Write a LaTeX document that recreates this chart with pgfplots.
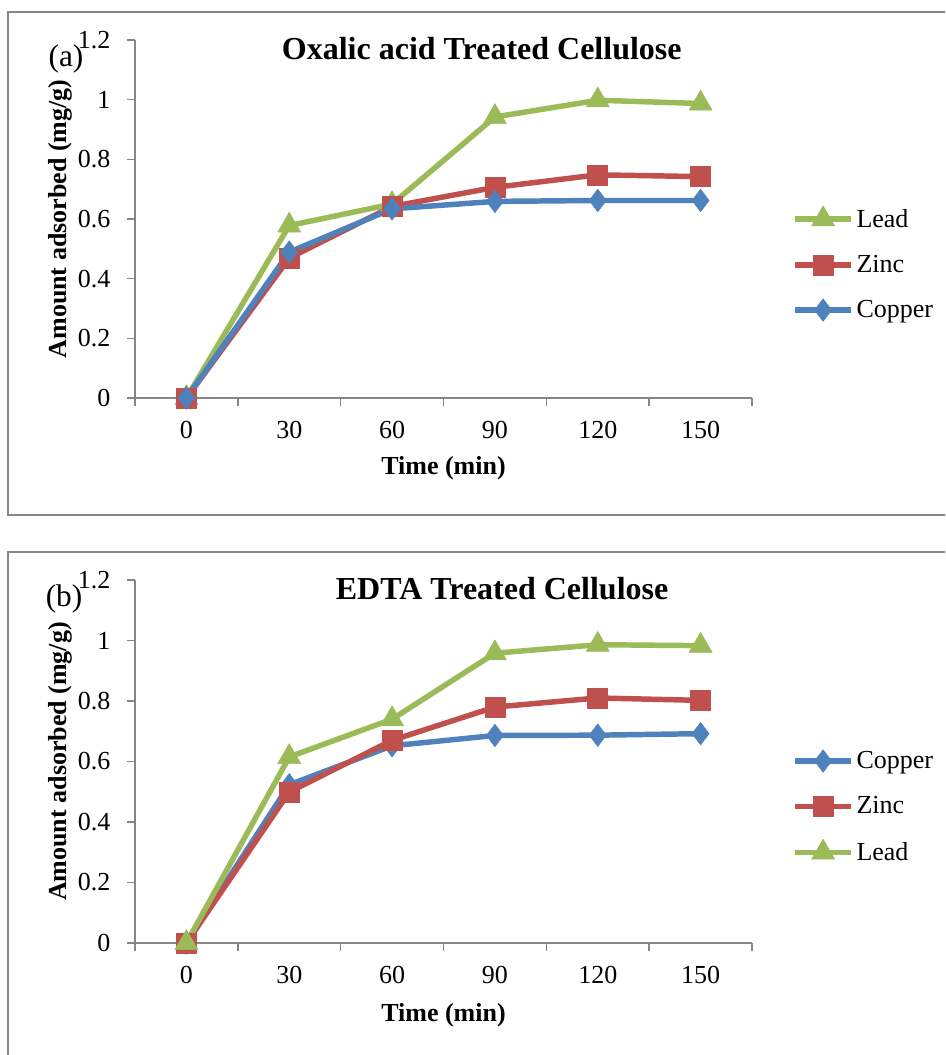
\documentclass[border=0pt]{standalone}
\usepackage{pgfplots}
\pgfplotsset{compat=1.18}
\usepackage{fontspec}
\setmainfont{Liberation Serif}
\definecolor{cu}{HTML}{4F81BD}
\definecolor{zn}{HTML}{C0504D}
\definecolor{pb}{HTML}{9BBB59}
\definecolor{axc}{HTML}{868686}
\newcommand\fs{\fontsize{19.5}{23}\selectfont}
\pgfplotsset{
 mystyle/.style={
  scale only axis, width=462.75pt, anchor=south west,
  xmin=-0.5, xmax=5.5, ymin=0, ymax=1.2,
  axis lines*=left, axis line style={axc, line width=1.1pt},
  xtick={0,1,2,3,4,5}, xticklabels={0,30,60,90,120,150},
  minor xtick={-0.5,0.5,1.5,2.5,3.5,4.5,5.5},
  ytick={0,0.2,0.4,0.6,0.8,1,1.2}, yticklabels={0,0.2,0.4,0.6,0.8,1,1.2},
  tick align=outside, major tick length=6pt, minor tick length=6pt,
  major x tick style={draw=none}, minor x tick style={axc, line width=1.1pt},
  major y tick style={axc, line width=1.1pt},
  tick label style={font=\fs, black},
  xticklabel style={yshift=-8pt},
  yticklabel style={xshift=-9pt},
  label style={font=\fs\bfseries},
  title style={font=\fontsize{24}{28}\selectfont\bfseries, anchor=base},
  xlabel={Time (min)}, ylabel={Amount adsorbed (mg/g)},
  clip=false,
  legend cell align=left,
  legend style={draw=none, fill=none, font=\fs, anchor=west, row sep=15.5pt, inner sep=0pt},
  legend image code/.code={\draw[mark repeat=2,mark phase=2,##1] plot coordinates {(0pt,0pt) (21pt,0pt) (42pt,0pt)};},
 },
 cuS/.style={cu, line width=4.1pt, line join=round, mark=diamond*, mark size=8.5pt, mark options={fill=cu, line width=0.4pt}},
 znS/.style={zn, line width=4.1pt, line join=round, mark=square*, mark size=7.5pt, mark options={fill=zn, line width=0.4pt}},
 pbS/.style={pb, line width=4.1pt, line join=round, mark=triangle*, mark size=10pt, mark options={fill=pb, line width=0.4pt}},
}
\begin{document}
\begin{tikzpicture}
\useasboundingbox (0,0) rectangle (708.75pt,791.25pt);
\clip (0,0) rectangle (708.75pt,791.25pt);
\draw[axc, line width=1.1pt] (6pt,405pt) rectangle (712.5pt,782.25pt);
\draw[axc, line width=1.1pt] (6pt,-3.75pt) rectangle (712.5pt,377.25pt);
\begin{axis}[mystyle, height=268.5pt, at={(101.25pt,492.75pt)},
  title={Oxalic acid Treated Cellulose},
  title style={at={(axis description cs:0.562,0.9218)}},
  xlabel style={at={(axis description cs:0.5,-0.1955)}, anchor=center},
  ylabel style={at={(axis description cs:-0.1216,0.5)}, anchor=center},
  legend style={at={(axis description cs:1.065,0.374)}}]
\addplot[pbS] coordinates {(0,0) (1,0.578) (2,0.650) (3,0.942) (4,0.998) (5,0.987)};
\addlegendentry{Lead}
\addplot[znS] coordinates {(0,0) (1,0.469) (2,0.642) (3,0.706) (4,0.748) (5,0.742)};
\addlegendentry{Zinc}
\addplot[cuS] coordinates {(0,0) (1,0.489) (2,0.634) (3,0.659) (4,0.662) (5,0.662)};
\addlegendentry{Copper}
\node[font=\fontsize{23.5}{27}\selectfont] at (axis description cs:-0.1118,0.947) {(a)};
\end{axis}
\begin{axis}[mystyle, height=272.25pt, at={(101.25pt,84pt)},
  title={EDTA Treated Cellulose},
  title style={at={(axis description cs:0.595,0.923)}},
  xlabel style={at={(axis description cs:0.5,-0.198)}, anchor=center},
  ylabel style={at={(axis description cs:-0.1216,0.5)}, anchor=center},
  legend style={at={(axis description cs:1.065,0.3747)}}]
\addplot[cuS] coordinates {(0,0) (1,0.523) (2,0.652) (3,0.686) (4,0.687) (5,0.692)};
\addlegendentry{Copper}
\addplot[znS] coordinates {(0,0) (1,0.499) (2,0.670) (3,0.780) (4,0.810) (5,0.802)};
\addlegendentry{Zinc}
\addplot[pbS] coordinates {(0,0) (1,0.615) (2,0.740) (3,0.958) (4,0.986) (5,0.983)};
\addlegendentry{Lead}
\node[font=\fontsize{23.5}{27}\selectfont] at (axis description cs:-0.115,0.948) {(b)};
\end{axis}
\end{tikzpicture}
\end{document}
